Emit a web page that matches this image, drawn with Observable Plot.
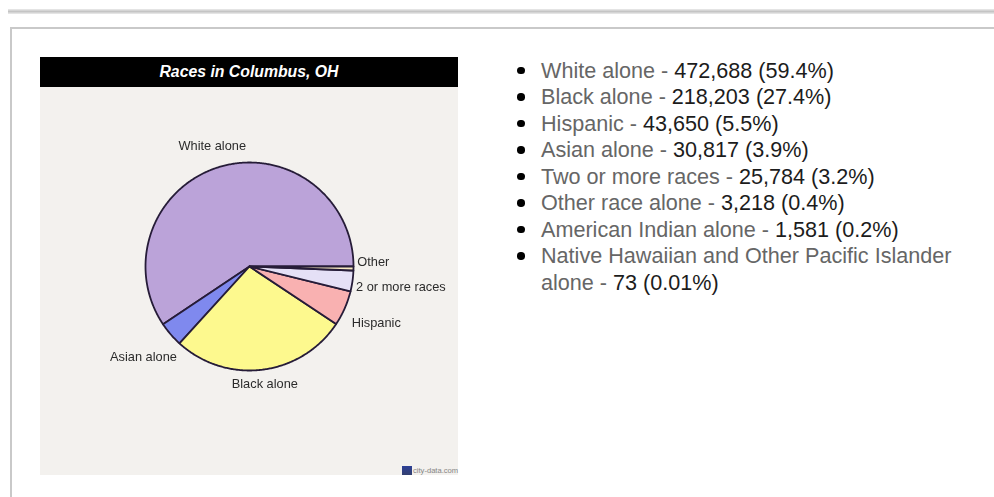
<!DOCTYPE html>
<html>
<head>
<meta charset="utf-8">
<script src="https://cdn.jsdelivr.net/npm/d3@7"></script>
<script src="https://cdn.jsdelivr.net/npm/@observablehq/plot@0.6"></script>
<style>
html,body{margin:0;padding:0;background:#fff;width:994px;height:497px;overflow:hidden;font-family:"Liberation Sans",Arial,sans-serif}
#topline{position:absolute;left:8px;right:0;top:9px;height:5px;background:linear-gradient(#ececec,#c4c4c4 50%,#ececec)}
#panel{position:absolute;left:10px;top:27px;right:-10px;bottom:-10px;border:2px solid #c9c9c9;border-right:0;border-bottom:0}
#bar{position:absolute;left:40px;top:57px;width:418px;height:30px;background:#000;color:#fff;font:italic bold 15.8px "Liberation Sans",Arial,sans-serif;text-align:center;line-height:30px}
#chart{position:absolute;left:40px;top:87px;width:418px;height:388px;background:#f3f1ee}
#chart svg{display:block;background:transparent;filter:blur(0.3px)}
#credit{position:absolute;left:402px;top:466px;display:flex;align-items:center;height:9px;font-size:7.6px;color:#858585;white-space:nowrap}
#credit i{display:block;width:10px;height:9px;background:linear-gradient(#2c3f96,#33406f);margin-right:1px}
ul{position:absolute;left:541px;top:57.5px;width:425px;margin:0;padding:0;list-style:none;font-size:21.6px;line-height:26.5px;color:#666}
li{margin:0;padding:0;position:relative}
li::before{content:"";position:absolute;left:-24px;top:9px;width:7.5px;height:7.5px;border-radius:50%;background:#000}
li b{font-weight:normal;color:#1c1c1c}
</style>
</head>
<body>
<div id="topline"></div>
<div id="panel"></div>
<div id="bar">Races in Columbus, OH</div>
<div id="chart"></div>
<div id="credit"><i></i>city-data.com</div>
<ul id="list"></ul>
<script>
// Pie data, counter-clockwise from 3 o'clock
const sliceNames = ["White alone", "Asian alone", "Black alone", "Hispanic", "2 or more races", "Other"];
const sliceValues = [472688, 30817, 218203, 43650, 25784, 4872];
const sliceColors = ["#bba3d9", "#7f89ee", "#fdf98e", "#f9b1b1", "#e5e0f6", "#f6e8c0"];

// List data
const listNames = ["White alone", "Black alone", "Hispanic", "Asian alone", "Two or more races", "Other race alone", "American Indian alone", "Native Hawaiian and Other Pacific Islander\nalone"];
const listCounts = ["472,688", "218,203", "43,650", "30,817", "25,784", "3,218", "1,581", "73"];
const listShares = ["59.4%", "27.4%", "5.5%", "3.9%", "3.2%", "0.4%", "0.2%", "0.01%"];

document.getElementById("list").innerHTML = listNames
  .map((n, i) => `<li>${n.replace("\n", "<br>")} - <b>${listCounts[i]} (${listShares[i]})</b></li>`)
  .join("");

const total = d3.sum(sliceValues);
let cum = 0;
const slices = sliceNames.map((name, i) => {
  const a0 = (cum / total) * 2 * Math.PI;
  cum += sliceValues[i];
  const a1 = (cum / total) * 2 * Math.PI;
  return {name, a0, a1, mid: (a0 + a1) / 2};
});

const outline = slices.flatMap(s => {
  const n = Math.max(2, Math.ceil((s.a1 - s.a0) / 0.01));
  const pts = [{name: s.name, x: 0, y: 0}];
  for (let k = 0; k <= n; k++) {
    const t = s.a0 + ((s.a1 - s.a0) * k) / n;
    pts.push({name: s.name, x: Math.cos(t), y: Math.sin(t)});
  }
  return pts;
});

// Plot frame: 418x388, pie centre at (209,179), radius 104
const W = 418, H = 388, R = 104, CX = 209, CY = 179;

// per-label placement relative to its radial anchor point
const place = {
  "White alone":     {anchor: "middle", dx: -1, dy: -1},
  "Asian alone":     {anchor: "end",    dx: 22, dy: 9},
  "Black alone":     {anchor: "middle", dx: 0,  dy: -6},
  "Hispanic":        {anchor: "start",  dx: -12, dy: 6},
  "2 or more races": {anchor: "start",  dx: -17, dy: 3},
  "Other":           {anchor: "start",  dx: -17, dy: -7}
};
const labelMarks = slices.map(s => {
  const p = place[s.name];
  return Plot.text([s], {
    x: d => 1.2 * Math.cos(d.mid),
    y: d => 1.2 * Math.sin(d.mid),
    text: "name",
    textAnchor: p.anchor,
    dx: p.dx,
    dy: p.dy,
    fill: "#2b2b2b",
    fontSize: 12.8,
    fontFamily: "Liberation Sans, Arial, sans-serif"
  });
});

const plot = Plot.plot({
  width: W,
  height: H,
  margin: 0,
  style: {background: "transparent"},
  x: {axis: null, domain: [-CX / R, (W - CX) / R], range: [0, W]},
  y: {axis: null, domain: [-(H - CY) / R, CY / R], range: [H, 0]},
  color: {domain: sliceNames, range: sliceColors},
  marks: [
    Plot.line(outline, {
      x: "x", y: "y", z: "name",
      fill: "name",
      stroke: "#261c38",
      strokeWidth: 1.8,
      curve: "linear-closed"
    }),
    ...labelMarks
  ]
});
document.getElementById("chart").appendChild(plot);
</script>
</body>
</html>
